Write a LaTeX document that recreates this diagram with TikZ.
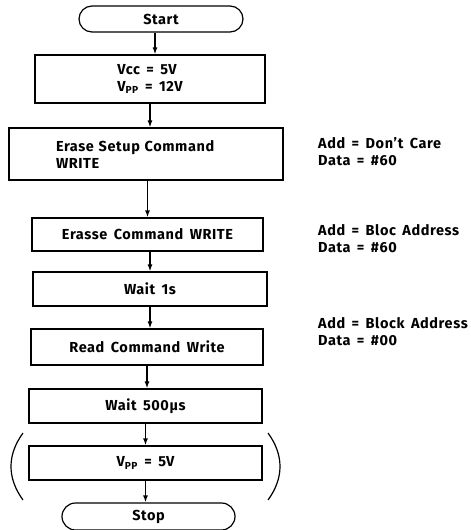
\documentclass[tikz,border=0pt]{standalone}
\usepackage{fontspec}
\setmainfont{Fira Sans}[LetterSpace=4, WordSpace=1.6]
\usetikzlibrary{shapes.misc,arrows.meta}
\newcommand{\flowfont}{\fontsize{14.5}{17}\selectfont\bfseries}

\begin{document}
\begin{tikzpicture}[
			x=1pt, y=-1pt,
			box/.style={draw, line width=1.2pt, inner sep=0pt, font=\flowfont},
			term/.style={draw, rounded rectangle, line width=1.2pt, inner sep=0pt, font=\flowfont},
			note/.style={align=left, inner sep=0pt, anchor=west, font=\flowfont},
			arr/.style={-{Latex[length=7pt,width=5pt]}, line width=1.3pt},
			paren/.style={line width=1.2pt}
		]
		\useasboundingbox (0,0) rectangle (471,530);
		\node[term, minimum width=164pt, minimum height=26pt] (start) at (161,19) {Start};
		\node[box, minimum width=230pt, minimum height=48pt, align=left] (vcc) at (150,79) {Vcc = 5V\\V\textsubscript{PP} = 12V};
		\node[box, minimum width=274pt, minimum height=52pt, text width=180pt, align=left] (setup) at (146,154) {Erase Setup Command\\WRITE};
		\node[box, minimum width=231pt, minimum height=33pt] (erase) at (147.5,234.5) {Erasse Command WRITE};
		\node[box, minimum width=234pt, minimum height=34pt] (wait1) at (150,289) {Wait 1s};
		\node[box, minimum width=232pt, minimum height=36pt] (read) at (147,347) {Read Command Write};
		\node[box, minimum width=233pt, minimum height=34pt] (wait2) at (145.5,406) {Wait 500µs};
		\node[box, minimum width=233pt, minimum height=34pt] (vpp) at (145.5,463) {V\textsubscript{PP} = 5V};
		\node[term, minimum width=173pt, minimum height=27pt] (stop) at (148.5,516.5) {Stop};

		% notes on the right
		\node[note] (noteA) at (318,152) {Add = Don’t Care\\Data = \#60};
		\node[note] (noteB) at (318,239) {Add = Bloc Address\\Data = \#60};
		\node[note] (noteC) at (318,332) {Add = Block Address\\Data = \#00};

		\draw[arr] ([xshift=-6pt]start.south) -- ([xshift=-6pt]start.south |- vcc.north);
		\draw[arr] (vcc.south) -- (vcc.south |- setup.north);
		\draw[arr] (erase.north |- setup.south) -- (erase.north);
		\draw[arr] (wait1.north |- erase.south) -- (wait1.north);
		\draw[arr] (wait1.south) -- (wait1.south |- read.north);
		\draw[arr] (read.south) -- (read.south |- wait2.north);
		\draw[arr] (wait2.south) -- (wait2.south |- vpp.north);
		\draw[arr] (vpp.south) -- (vpp.south |- stop.north);

		% brackets round the last step
		\draw[paren] (23,433) .. controls (7,455) and (7,478) .. (23,500);
		\draw[paren] (268,433) .. controls (284,455) and (284,478) .. (268,500);
	\end{tikzpicture}
\end{document}
